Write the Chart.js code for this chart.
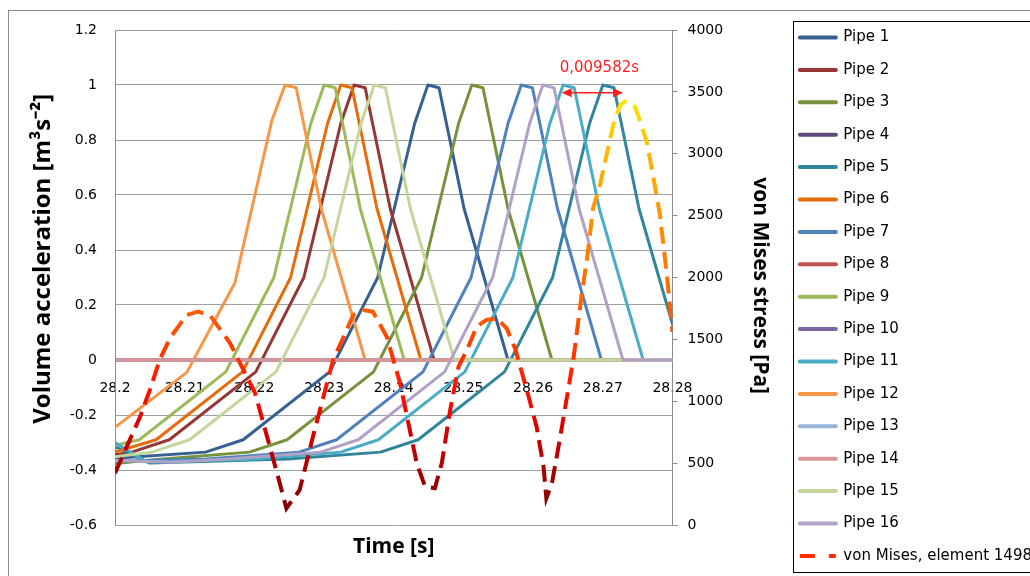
<!DOCTYPE html>
<html>
<head>
<meta charset="utf-8">
<title>Volume acceleration and von Mises stress</title>
<script src="https://cdn.jsdelivr.net/npm/chart.js@4.4.0/dist/chart.umd.min.js"></script>
<style>
  html, body { margin: 0; padding: 0; background: #fff; overflow: hidden; }
  #wrap { width: 1042px; height: 600px; }
</style>
</head>
<body>
<div id="wrap"><canvas id="chart" width="1042" height="600"></canvas></div>
<script>
// axis ticks
const timeTicks = [28.2, 28.21, 28.22, 28.23, 28.24, 28.25, 28.26, 28.27, 28.28];
const accelTicks = [-0.6, -0.4, -0.2, 0, 0.2, 0.4, 0.6, 0.8, 1, 1.2];
const stressTicks = [0, 500, 1000, 1500, 2000, 2500, 3000, 3500, 4000];

const pipeNames = ['Pipe 1', 'Pipe 2', 'Pipe 3', 'Pipe 4', 'Pipe 5', 'Pipe 6', 'Pipe 7', 'Pipe 8',
  'Pipe 9', 'Pipe 10', 'Pipe 11', 'Pipe 12', 'Pipe 13', 'Pipe 14', 'Pipe 15', 'Pipe 16'];
const stressName = 'von Mises, element 1498';

// volume acceleration per pipe, [time s, m3/s2]
const pipe1 = [[28.2, -0.357], [28.213, -0.335], [28.2184, -0.29], [28.2308, -0.043], [28.2377, 0.3],
  [28.243, 0.86], [28.2449, 1.0], [28.2465, 0.99], [28.2501, 0.55], [28.2564, 0], [28.28, 0]];
const pipe2 = [[28.2, -0.345], [28.2024, -0.335], [28.2078, -0.29], [28.2202, -0.043], [28.2271, 0.3],
  [28.2324, 0.86], [28.2343, 1.0], [28.2359, 0.99], [28.2395, 0.55], [28.2458, 0], [28.28, 0]];
const pipe3 = [[28.2, -0.376], [28.206, -0.362], [28.2193, -0.335], [28.2247, -0.29], [28.2371, -0.043],
  [28.244, 0.3], [28.2493, 0.86], [28.2512, 1.0], [28.2528, 0.99], [28.2564, 0.55], [28.2627, 0], [28.28, 0]];
const pipe4 = [[28.2, 0], [28.28, 0]];
const pipe5 = [[28.2, -0.315], [28.205, -0.375], [28.2248, -0.36], [28.2381, -0.335], [28.2435, -0.29],
  [28.2559, -0.043], [28.2628, 0.3], [28.2681, 0.86], [28.27, 1.0], [28.2716, 0.99], [28.2752, 0.55],
  [28.2815, 0]];
const pipe6 = [[28.2, -0.335], [28.2059, -0.29], [28.2183, -0.043], [28.2252, 0.3], [28.2305, 0.86],
  [28.2324, 1.0], [28.234, 0.99], [28.2376, 0.55], [28.2439, 0], [28.28, 0]];
const pipe7 = [[28.2, -0.368], [28.2131, -0.36], [28.2264, -0.335], [28.2318, -0.29], [28.2442, -0.043],
  [28.2511, 0.3], [28.2564, 0.86], [28.2583, 1.0], [28.2599, 0.99], [28.2635, 0.55], [28.2698, 0], [28.28, 0]];
const pipe8 = [[28.2, 0], [28.28, 0]];
const pipe9 = [[28.2, -0.31], [28.2035, -0.29], [28.2159, -0.043], [28.2228, 0.3], [28.2281, 0.86],
  [28.23, 1.0], [28.2316, 0.99], [28.2352, 0.55], [28.2415, 0], [28.28, 0]];
const pipe10 = [[28.2, 0], [28.28, 0]];
const pipe11 = [[28.2, -0.3], [28.2045, -0.37], [28.2191, -0.362], [28.2324, -0.335], [28.2378, -0.29],
  [28.2502, -0.043], [28.2571, 0.3], [28.2624, 0.86], [28.2643, 1.0], [28.2659, 0.99], [28.2695, 0.55],
  [28.2758, 0], [28.28, 0]];
const pipe12 = [[28.2, -0.245], [28.2103, -0.045], [28.2172, 0.28], [28.2225, 0.87], [28.2244, 1.0],
  [28.226, 0.99], [28.2296, 0.55], [28.2359, 0], [28.28, 0]];
const pipe13 = [[28.2, 0], [28.28, 0]];
const pipe14 = [[28.2, 0], [28.28, 0]];
const pipe15 = [[28.2, -0.352], [28.2053, -0.335], [28.2107, -0.29], [28.2231, -0.043], [28.23, 0.3],
  [28.2353, 0.86], [28.2372, 1.0], [28.2388, 0.99], [28.2424, 0.55], [28.2487, 0], [28.28, 0]];
const pipe16 = [[28.2, -0.365], [28.208, -0.372], [28.2162, -0.36], [28.2295, -0.335], [28.2349, -0.29],
  [28.2473, -0.043], [28.2542, 0.3], [28.2595, 0.86], [28.2614, 1.0], [28.263, 0.99], [28.2666, 0.55],
  [28.2729, 0], [28.28, 0]];

// von Mises stress, [time s, Pa]
const vonMises = [[28.2, 418], [28.2036, 875], [28.205, 1091], [28.2064, 1333], [28.2079, 1511],
  [28.2103, 1697], [28.2119, 1724], [28.2136, 1697], [28.2165, 1470], [28.2201, 1067], [28.2232, 431],
  [28.2246, 135], [28.2265, 283], [28.2284, 713], [28.2313, 1333], [28.2342, 1697], [28.2356, 1737],
  [28.237, 1724], [28.239, 1521], [28.2409, 1147], [28.2433, 500], [28.2445, 310], [28.2459, 297],
  [28.2469, 500], [28.2481, 929], [28.2493, 1279], [28.2505, 1414], [28.2519, 1603], [28.2533, 1657],
  [28.2548, 1670], [28.2562, 1590], [28.2574, 1428], [28.2591, 1091], [28.2605, 794], [28.2615, 471],
  [28.2619, 216], [28.2627, 337], [28.2639, 713], [28.2658, 1350], [28.267, 1875], [28.2677, 2135],
  [28.2686, 2559], [28.2696, 2748], [28.2706, 3004], [28.2715, 3232], [28.2725, 3394], [28.2732, 3421],
  [28.2746, 3380], [28.2753, 3273], [28.2763, 3098], [28.2772, 2828], [28.2782, 2505], [28.2792, 2020],
  [28.28, 1562], [28.2812, 1000]];

// the marked time gap between two peaks
const gapLabel = '0,009582s';
const gapFrom = 28.2641;
const gapTo = 28.2729;

const pipeColors = ['#376092', '#953735', '#76923C', '#5F497A', '#31859C', '#E46C0A',
  '#4F81BD', '#C0504D', '#9BBB59', '#8064A2', '#4BACC6', '#F79646',
  '#95B3D7', '#D99694', '#C3D69B', '#B2A1C7'];
const stressStops = [[0, '#780000'], [0.08, '#980000'], [0.18, '#D00000'], [0.28, '#FF1400'],
  [0.42, '#FF5A00'], [0.6, '#FF8C00'], [0.75, '#FFB800'], [0.86, '#FFE400'], [1, '#FFFF00']];

const gridGray = '#a0a0a0';
const axisGray = '#8c8c8c';
const tickFont = { family: 'DejaVu Sans', size: 14 };

const stressGradient = (ctx) => {
  const chart = ctx.chart;
  if (!chart.chartArea) return '#FF3000';
  const s = chart.scales.y1;
  const g = chart.ctx.createLinearGradient(0, s.getPixelForValue(0), 0, s.getPixelForValue(4000));
  stressStops.forEach(st => g.addColorStop(st[0], st[1]));
  return g;
};

const pipeData = [pipe1, pipe2, pipe3, pipe4, pipe5, pipe6, pipe7, pipe8,
  pipe9, pipe10, pipe11, pipe12, pipe13, pipe14, pipe15, pipe16];

const datasets = pipeData.map((pts, i) => ({
  label: pipeNames[i],
  data: pts.map(p => ({ x: p[0], y: p[1] })),
  borderColor: pipeColors[i],
  backgroundColor: pipeColors[i],
  borderWidth: 3,
  borderJoinStyle: 'round',
  borderCapStyle: 'round',
  pointRadius: 0,
  tension: 0,
  yAxisID: 'y',
  order: 16 - i
}));
datasets.push({
  label: stressName,
  data: vonMises.map(p => ({ x: p[0], y: p[1] })),
  borderColor: stressGradient,
  backgroundColor: '#FF3000',
  borderWidth: 4,
  borderDash: [17, 8],
  pointRadius: 0,
  tension: 0,
  yAxisID: 'y1',
  order: 0
});

const frame = {
  id: 'frame',
  beforeDraw(chart) {
    const c = chart.ctx;
    c.save();
    c.fillStyle = '#fff';
    c.fillRect(0, 0, chart.width, chart.height);
    c.strokeStyle = axisGray;
    c.lineWidth = 1;
    c.strokeRect(8.5, 10.5, chart.width + 20, chart.height + 20);
    c.restore();
  },
  afterDraw(chart) {
    const hb = chart.legend.legendHitBoxes;
    if (!hb || !hb.length) return;
    const last = hb[hb.length - 1];
    const top = Math.round(hb[0].top - 9) + 0.5;
    const bottom = Math.round(last.top + last.height + 9) + 0.5;
    const left = Math.round(hb[0].left - 7) + 0.5;
    const c = chart.ctx;
    c.save();
    c.strokeStyle = '#000';
    c.lineWidth = 1;
    c.strokeRect(left, top, chart.width, bottom - top);
    c.restore();
  }
};

const gapMarker = {
  id: 'gapMarker',
  afterDatasetsDraw(chart) {
    const xs = chart.scales.x, ys = chart.scales.y;
    const x0 = xs.getPixelForValue(gapFrom), x1 = xs.getPixelForValue(gapTo);
    const yy = ys.getPixelForValue(0.972);
    const c = chart.ctx;
    c.save();
    c.strokeStyle = '#FF1E1E';
    c.fillStyle = '#FF1E1E';
    c.lineWidth = 1.5;
    c.beginPath();
    c.moveTo(x0 + 8, yy);
    c.lineTo(x1 - 8, yy);
    c.stroke();
    c.beginPath();
    c.moveTo(x0, yy); c.lineTo(x0 + 10, yy - 4.5); c.lineTo(x0 + 10, yy + 4.5); c.closePath();
    c.moveTo(x1, yy); c.lineTo(x1 - 10, yy - 4.5); c.lineTo(x1 - 10, yy + 4.5); c.closePath();
    c.fill();
    c.font = '15px "DejaVu Sans"';
    c.textAlign = 'center';
    c.textBaseline = 'middle';
    c.fillText(gapLabel, (x0 + x1) / 2 + 7, ys.getPixelForValue(1.06));
    c.restore();
  }
};

new Chart(document.getElementById('chart'), {
  type: 'line',
  data: { datasets: datasets },
  options: {
    responsive: false,
    animation: false,
    devicePixelRatio: 1,
    layout: { padding: { top: 12.6, left: 0, right: 0, bottom: 0 } },
    interaction: { mode: 'nearest', intersect: false },
    scales: {
      x: {
        type: 'linear',
        position: { y: 0 },
        min: 28.2,
        max: 28.28,
        afterBuildTicks: s => { s.ticks = timeTicks.map(v => ({ value: v })); },
        grid: { display: false, drawTicks: false },
        border: { display: true, color: axisGray },
        ticks: {
          font: tickFont, color: '#000', padding: 20, maxRotation: 0, autoSkip: false,
          callback: v => String(Math.round(v * 100) / 100)
        }
      },
      y: {
        type: 'linear',
        position: 'left',
        min: -0.6,
        max: 1.2,
        afterBuildTicks: s => { s.ticks = accelTicks.map(v => ({ value: v })); },
        afterFit: s => { s.width = 115; },
        grid: { color: gridGray, drawTicks: false },
        border: { display: true, color: axisGray },
        ticks: {
          font: tickFont, color: '#000', padding: 18,
          callback: v => String(Math.round(v * 10) / 10)
        },
        title: {
          display: true,
          // leading spaces move the centred title up, as in the source chart
          text: '      Volume acceleration [m³s⁻²]',
          color: '#000',
          font: { family: 'Open Sans', size: 24, weight: 'bold', lineHeight: 1.2 },
          padding: { top: 29, bottom: 0 }
        }
      },
      y1: {
        type: 'linear',
        position: 'right',
        min: 0,
        max: 4000,
        afterBuildTicks: s => { s.ticks = stressTicks.map(v => ({ value: v })); },
        afterFit: s => { s.width = 110; },
        grid: { drawOnChartArea: false, drawTicks: true, tickLength: 5, color: axisGray },
        border: { display: true, color: axisGray },
        ticks: { font: tickFont, color: '#000', padding: 10, callback: v => String(v) },
        title: {
          display: true,
          text: '   von Mises stress [Pa]',
          color: '#000',
          font: { family: 'Open Sans', size: 21, weight: 'bold', lineHeight: 1.2 },
          padding: { top: 10, bottom: 0 }
        }
      }
    },
    plugins: {
      legend: {
        position: 'right',
        align: 'start',
        maxWidth: 320,
        labels: {
          usePointStyle: true,
          pointStyleWidth: 36,
          padding: 17.4,
          color: '#000',
          font: { family: 'DejaVu Sans', size: 15 },
          generateLabels: chart => chart.data.datasets.map((ds, i) => ({
            text: ds.label,
            datasetIndex: i,
            hidden: false,
            fontColor: '#000',
            fillStyle: ds.yAxisID === 'y1' ? '#FF2A00' : ds.borderColor,
            strokeStyle: ds.yAxisID === 'y1' ? '#FF2A00' : ds.borderColor,
            lineWidth: 4,
            lineCap: ds.yAxisID === 'y1' ? 'butt' : 'round',
            lineDash: ds.yAxisID === 'y1' ? [15, 14] : [],
            pointStyle: 'line'
          }))
        }
      },
      subtitle: {
        display: true,
        position: 'top',
        fullSize: false,
        text: '',
        padding: 0,
        font: { size: 14.5, lineHeight: 1.2 }
      },
      title: {
        display: true,
        position: 'bottom',
        fullSize: false,
        text: 'Time [s]',
        color: '#000',
        font: { family: 'Open Sans', size: 21, weight: 'bold', lineHeight: 1.2 },
        padding: { top: 9.4, bottom: 40.4 }
      },
      tooltip: { enabled: false }
    }
  },
  plugins: [frame, gapMarker]
});
</script>
</body>
</html>
